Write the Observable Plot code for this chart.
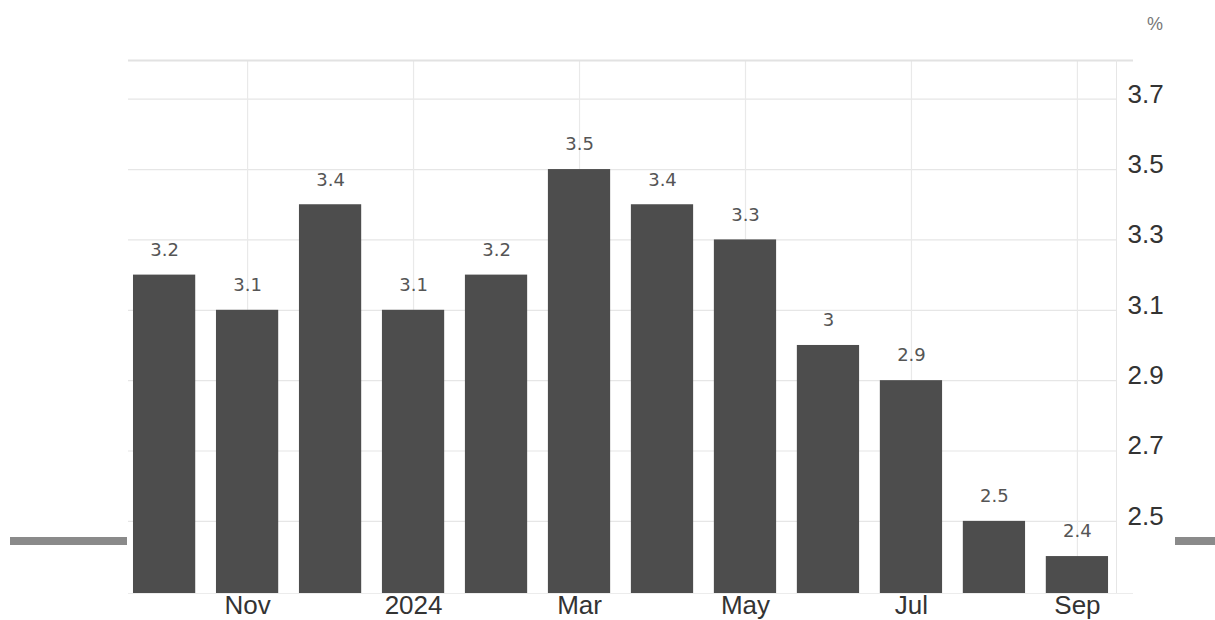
<!DOCTYPE html>
<html><head><meta charset="utf-8">
<script src="https://cdn.jsdelivr.net/npm/d3@7"></script>
<script src="https://cdn.jsdelivr.net/npm/@observablehq/plot@0.6"></script>
<style>
body{margin:0;background:#fff;}
#chart{position:relative;width:1215px;height:620px;overflow:hidden;}
</style>
</head><body><div id="chart"></div>
<script>
const months = ["2023-10","2023-11","2023-12","2024-01","2024-02","2024-03","2024-04","2024-05","2024-06","2024-07","2024-08","2024-09"];
const values = [3.2, 3.1, 3.4, 3.1, 3.2, 3.5, 3.4, 3.3, 3.0, 2.9, 2.5, 2.4];
const tickMonths = ["2023-11","2024-01","2024-03","2024-05","2024-07","2024-09"];
const tickLabels = ["Nov","2024","Mar","May","Jul","Sep"];
const yTicks = [2.5, 2.7, 2.9, 3.1, 3.3, 3.5, 3.7];
const yDomain = [2.295, 3.81];
const unitLabel = "%";

const data = months.map((m, i) => ({month: m, value: values[i], label: String(values[i])}));
const tickLabelOf = new Map(tickMonths.map((m, i) => [m, tickLabels[i]]));

function decor(index, scales, vals, dims) {
  const g = d3.create("svg:g");
  const left = dims.marginLeft, right = dims.width - dims.marginRight;
  const top = dims.marginTop, bottom = dims.height - dims.marginBottom;
  g.append("line").attr("x1", left).attr("x2", right + 17).attr("y1", top + 0.5).attr("y2", top + 0.5)
    .attr("stroke", "#e2e2e2").attr("stroke-width", 2);
  g.append("line").attr("x1", left).attr("x2", right + 17).attr("y1", bottom + 0.5).attr("y2", bottom + 0.5)
    .attr("stroke", "#ececec");
  g.append("line").attr("x1", right + 0.5).attr("x2", right + 0.5).attr("y1", top).attr("y2", bottom)
    .attr("stroke", "#e6e6e6");
  g.append("rect").attr("x", 10).attr("y", 537).attr("width", 117).attr("height", 8).attr("fill", "#8a8a8a");
  g.append("rect").attr("x", 1175).attr("y", 537).attr("width", 40).attr("height", 8).attr("fill", "#8a8a8a");
  g.append("text").attr("x", 1155).attr("y", 30).attr("text-anchor", "middle")
    .attr("font-family", "Liberation Sans, Arial, sans-serif").attr("font-size", 18).attr("fill", "#777")
    .text(unitLabel);
  return g.node();
}

const chart = Plot.plot({
  width: 1215,
  height: 620,
  marginLeft: 128,
  marginRight: 99,
  marginTop: 60,
  marginBottom: 27,
  style: {background: "#fff", fontFamily: "Liberation Sans, Arial, sans-serif", color: "#333"},
  x: {type: "band", domain: months, paddingInner: 0.25, paddingOuter: 0.078, align: 0.385, round: false, label: null},
  y: {domain: yDomain, label: null},
  marks: [
    Plot.ruleY(yTicks, {stroke: "#e6e6e6", strokeWidth: 1.2}),
    Plot.ruleX(tickMonths, {x: d => d, stroke: "#e9e9e9", strokeWidth: 1.2}),
    Plot.barY(data, {x: "month", y1: yDomain[0], y2: "value", fill: "#4d4d4d"}),
    Plot.text(data, {x: "month", y: "value", text: "label", dy: -25, fontSize: 18,
      fontFamily: "DejaVu Sans, sans-serif", fill: "#555", style: "letter-spacing:2px"}),
    Plot.axisY({anchor: "right", ticks: yTicks, tickSize: 0, tickPadding: 11, fontSize: 26,
      dy: -5, textAnchor: "start", tickFormat: d => String(d), label: null, fill: "#333"}),
    Plot.axisX({ticks: tickMonths, tickSize: 0, tickPadding: 2, fontSize: 26,
      tickFormat: d => tickLabelOf.get(d), label: null, fill: "#333"}),
    decor
  ]
});
document.getElementById("chart").appendChild(chart);
</script>
</body></html>
